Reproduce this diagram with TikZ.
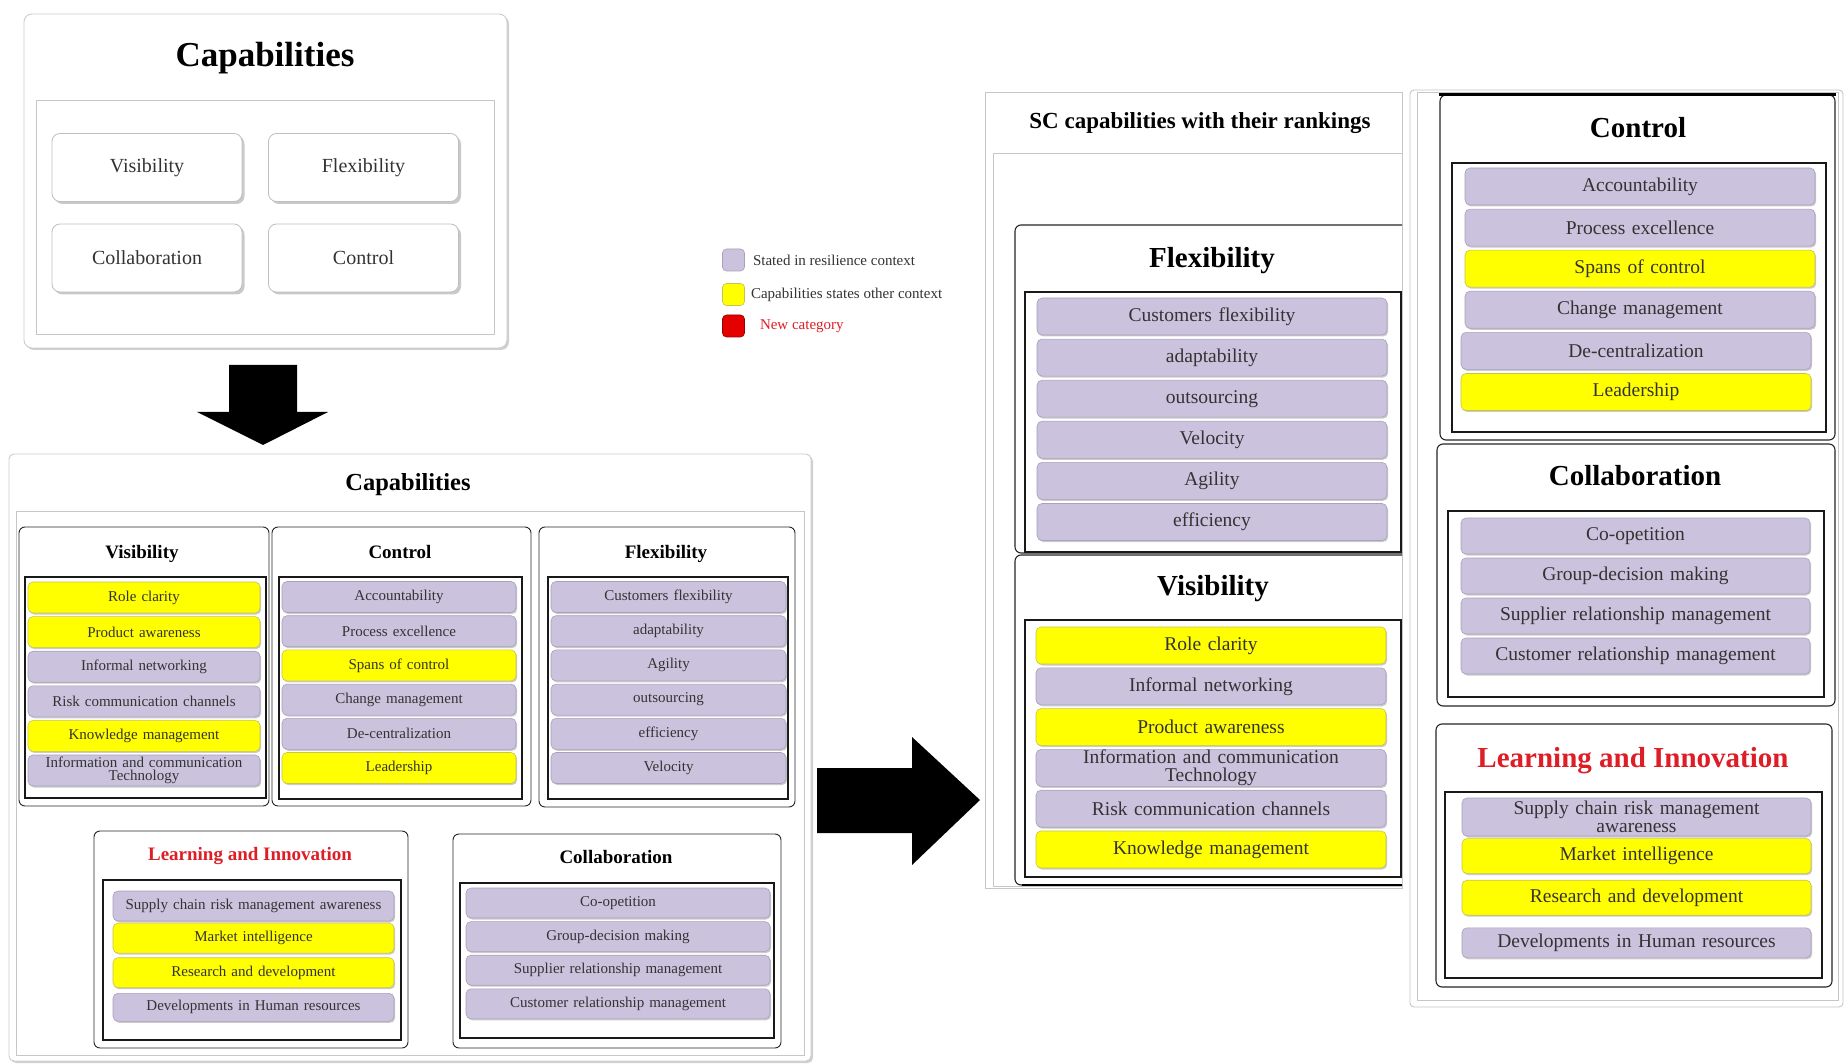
\documentclass[tikz,border=0pt]{standalone}
\usepackage{fontspec}
\setmainfont{Liberation Serif}
\usepackage{xcolor}
\usepackage{tikz}
\usetikzlibrary{positioning,shadows}
\definecolor{lav}{RGB}{203,195,221}
\definecolor{lavedge}{RGB}{168,160,188}
\definecolor{yel}{RGB}{255,255,0}
\definecolor{yeledge}{RGB}{200,195,80}
\definecolor{newred}{RGB}{222,30,38}
\tikzset{
  thinframe/.style={draw=gray!45, line width=0.9pt},
  panel/.style={draw=gray!40, line width=0.9pt, rounded corners=8pt, fill=white,
    drop shadow={shadow xshift=2pt, shadow yshift=-2pt, fill=black!30, opacity=0.6}},
  btn/.style={draw=gray!50, line width=0.8pt, rounded corners=8pt, fill=white, text=black!80,
    minimum width=190pt, minimum height=68pt, font=\fontsize{20}{20}\selectfont,
    drop shadow={shadow xshift=2.5pt, shadow yshift=-2.5pt, fill=black!35, opacity=0.6}},
  catbox/.style={draw=black!85, line width=0.9pt, rounded corners=6pt},
  catlist/.style={draw=black!90, line width=1.3pt},
  pill/.style={rounded corners=5pt, line width=0.6pt, align=center, inner sep=0pt, text=black!80,
    drop shadow={shadow xshift=1.2pt, shadow yshift=-1.5pt, fill=black!40, opacity=0.5}},
  resil/.style={fill=lav, draw=lavedge},
  other/.style={fill=yel, draw=yeledge},
  mitem/.style={pill, font=\fontsize{15}{13.5}\selectfont, minimum height=31pt, text width=#1},
  ritem/.style={pill, font=\fontsize{19.5}{17.5}\selectfont, minimum height=37pt, text width=#1},
  mhead/.style={anchor=base, font=\fontsize{19}{19}\selectfont\bfseries},
  rhead/.style={anchor=base, font=\fontsize{29}{29}\selectfont\bfseries},
  key/.style={draw, rounded corners=4pt, minimum size=22pt, line width=0.6pt},
  keytxt/.style={font=\fontsize{15}{15}\selectfont, text=black!80, inner sep=0pt},
}

\begin{document}
\begin{tikzpicture}[x=1pt, y=-1pt]
\useasboundingbox (0,0) rectangle (1845,1064);
\fill[white] (0,0) rectangle (1845,1064);

% the four capabilities
\node[panel, minimum width=483pt, minimum height=334pt] (cap) at (265.5,181) {};
\node[anchor=base, font=\fontsize{35}{35}\selectfont\bfseries] (captitle) at (265,67) {Capabilities};
\node[thinframe, minimum width=458pt, minimum height=234pt] (capin) at (265,217) {};
\node[btn] (bvis) at (147,167.5) {Visibility};
\node[btn] (bflex) at (363.5,167.5) {Flexibility};
\node[btn] (bcoll) at (147,258) {Collaboration};
\node[btn] (bcon) at (363.5,258) {Control};

\fill (229,365) -- (297,365) -- (297,412) -- (328,412) -- (263,445) -- (197,412) -- (229,412) -- cycle;

% legend
\node[key, resil] (k1) at (733.5,260) {};
\node[keytxt, right=8pt of k1] (k1t) {Stated in resilience context};
\node[key, other] (k2) at (733.5,294.5) {};
\node[keytxt, right=6pt of k2] (k2t) {Capabilities states other context};
\node[key, fill=red!90!black, draw=red!60!black] (k3) at (733.5,326) {};
\node[keytxt, right=15pt of k3, text=newred] (k3t) {New category};

% extended capabilities
\node[panel, rounded corners=5pt, minimum width=802pt, minimum height=607pt] (mid) at (410,757.5) {};
\node[anchor=base, font=\fontsize{24.5}{24.5}\selectfont\bfseries] (midtitle) at (408,490) {Capabilities};
\node[thinframe, minimum width=788pt, minimum height=544pt] (midin) at (410,783) {};

\node[catbox, minimum width=250pt, minimum height=279pt] (mvis) at (144,666.5) {};
\node[mhead] (mvhead) at (142,558) {Visibility};
\node[catlist, minimum width=241pt, minimum height=221pt] (mvlist) at (145.5,687.5) {};
\node[mitem=232pt, other] (mv1) at (144,597.5) {Role clarity};
\node[mitem=232pt, other, below=3pt of mv1] (mv2) {Product awareness};
\node[mitem=232pt, resil, below=3pt of mv2] (mv3) {Informal networking};
\node[mitem=232pt, resil, below=3pt of mv3] (mv4) {Risk communication channels};
\node[mitem=232pt, other, below=3pt of mv4] (mv5) {Knowledge management};
\node[mitem=232pt, resil, below=3pt of mv5] (mv6) {Information and communication\\Technology};

\node[catbox, minimum width=259pt, minimum height=279pt] (mcon) at (401.5,666.5) {};
\node[mhead] (mchead) at (400,558) {Control};
\node[catlist, minimum width=243pt, minimum height=222pt] (mclist) at (400.5,688) {};
\node[mitem=234pt, resil] (mc1) at (399,597) {Accountability};
\node[mitem=234pt, resil, below=2.6pt of mc1] (mc2) {Process excellence};
\node[mitem=234pt, other, below=2.6pt of mc2] (mc3) {Spans of control};
\node[mitem=234pt, resil, below=2.6pt of mc3] (mc4) {Change management};
\node[mitem=234pt, resil, below=2.6pt of mc4] (mc5) {De-centralization};
\node[mitem=234pt, other, below=2.6pt of mc5] (mc6) {Leadership};

\node[catbox, minimum width=256pt, minimum height=280pt] (mflex) at (667,667) {};
\node[mhead] (mfhead) at (666,558) {Flexibility};
\node[catlist, minimum width=240pt, minimum height=222pt] (mflist) at (668,688) {};
\node[mitem=235pt, resil] (mf1) at (668.5,597) {Customers flexibility};
\node[mitem=235pt, resil, below=2.6pt of mf1] (mf2) {adaptability};
\node[mitem=235pt, resil, below=2.6pt of mf2] (mf3) {Agility};
\node[mitem=235pt, resil, below=2.6pt of mf3] (mf4) {outsourcing};
\node[mitem=235pt, resil, below=2.6pt of mf4] (mf5) {efficiency};
\node[mitem=235pt, resil, below=2.6pt of mf5] (mf6) {Velocity};

\node[catbox, minimum width=314pt, minimum height=217pt] (mlearn) at (251,939.5) {};
\node[mhead, text=newred] (mlhead) at (250,860) {Learning and Innovation};
\node[catlist, minimum width=298pt, minimum height=160pt] (mllist) at (252,960) {};
\node[mitem=281pt, resil, minimum height=30pt] (ml1) at (253.5,906) {Supply chain risk management awareness};
\node[mitem=281pt, other, minimum height=30pt, below=1.5pt of ml1] (ml2) {Market intelligence};
\node[mitem=281pt, other, minimum height=30pt, below=4pt of ml2] (ml3) {Research and development};
\node[mitem=281pt, resil, minimum height=28pt, below=5pt of ml3] (ml4) {Developments in Human resources};

\node[catbox, minimum width=328pt, minimum height=214pt] (mcoll) at (617,941) {};
\node[mhead] (mohead) at (616,863) {Collaboration};
\node[catlist, minimum width=314pt, minimum height=155pt] (molist) at (617,960.5) {};
\node[mitem=304pt, resil, minimum height=30pt] (mo1) at (618,903) {Co-opetition};
\node[mitem=304pt, resil, minimum height=30pt, below=3pt of mo1] (mo2) {Group-decision making};
\node[mitem=304pt, resil, minimum height=30pt, below=3pt of mo2] (mo3) {Supplier relationship management};
\node[mitem=304pt, resil, minimum height=30pt, below=3pt of mo3] (mo4) {Customer relationship management};

\fill (817,768) -- (912,768) -- (912,737) -- (980,800) -- (912,865) -- (912,833) -- (817,833) -- cycle;

% rankings, first column
\draw[thinframe] (985,92) rectangle (1402,888);
\draw[thinframe] (993,153) rectangle (1402,886);
\node[anchor=base, font=\fontsize{23}{23}\selectfont\bfseries] (ranktitle) at (1200,129) {SC capabilities with their rankings};

\draw[catbox, line width=1.1pt] (1402,225) -- (1015,225) -- (1015,553) -- (1402,553);
\node[rhead] (rfhead) at (1212,268) {Flexibility};
\node[catlist, minimum width=376pt, minimum height=260pt] (rflist) at (1213,422) {};
\node[ritem=350pt, resil] (rf1) at (1212,316.5) {Customers flexibility};
\node[ritem=350pt, resil, below=3.5pt of rf1] (rf2) {adaptability};
\node[ritem=350pt, resil, below=3.5pt of rf2] (rf3) {outsourcing};
\node[ritem=350pt, resil, below=3.5pt of rf3] (rf4) {Velocity};
\node[ritem=350pt, resil, below=3.5pt of rf4] (rf5) {Agility};
\node[ritem=350pt, resil, below=3.5pt of rf5] (rf6) {efficiency};

\draw[catbox, line width=1.1pt] (1402,555) -- (1015,555) -- (1015,885) -- (1402,885);
\draw[line width=2.2pt] (1022,885) -- (1402,885);
\node[rhead] (rvhead) at (1213,595) {Visibility};
\node[catlist, minimum width=376pt, minimum height=257pt] (rvlist) at (1213,748.5) {};
\node[ritem=350pt, other] (rv1) at (1211,645.5) {Role clarity};
\node[ritem=350pt, resil, below=3.2pt of rv1] (rv2) {Informal networking};
\node[ritem=350pt, other, below=3.2pt of rv2] (rv3) {Product awareness};
\node[ritem=350pt, resil, below=3.2pt of rv3] (rv4) {Information and communication\\Technology};
\node[ritem=350pt, resil, below=3.2pt of rv4] (rv5) {Risk communication channels};
\node[ritem=350pt, other, below=3.2pt of rv5] (rv6) {Knowledge management};

% rankings, second column
\draw[thinframe, rounded corners=4pt] (1410,90) rectangle (1843,1007);
\draw[thinframe] (1417,92) rectangle (1838,1000);

\node[catbox, line width=1.1pt, minimum width=395pt, minimum height=345pt] (rcon) at (1637.5,267.5) {};
\draw[line width=2.2pt] (rcon.north west) -- (rcon.north east);
\node[rhead] (rchead) at (1638,138) {Control};
\node[catlist, minimum width=374pt, minimum height=269pt] (rclist) at (1639,297.5) {};
\node[ritem=350pt, resil] (rc1) at (1640,186.5) {Accountability};
\node[ritem=350pt, resil, below=3.5pt of rc1] (rc2) {Process excellence};
\node[ritem=350pt, other, below=3.5pt of rc2] (rc3) {Spans of control};
\node[ritem=350pt, resil, below=3.5pt of rc3] (rc4) {Change management};
\node[ritem=350pt, resil, below=3.5pt of rc4, xshift=-4pt] (rc5) {De-centralization};
\node[ritem=350pt, other, below=3.5pt of rc5] (rc6) {Leadership};

\node[catbox, line width=1.1pt, minimum width=398pt, minimum height=262pt] (rcoll) at (1636,575) {};
\node[rhead] (rohead) at (1635,485) {Collaboration};
\node[catlist, minimum width=376pt, minimum height=186pt] (rolist) at (1636,604) {};
\node[ritem=349pt, resil, minimum height=36pt] (ro1) at (1635.5,536) {Co-opetition};
\node[ritem=349pt, resil, minimum height=36pt, below=3.4pt of ro1] (ro2) {Group-decision making};
\node[ritem=349pt, resil, minimum height=36pt, below=3.4pt of ro2] (ro3) {Supplier relationship management};
\node[ritem=349pt, resil, minimum height=36pt, below=3.4pt of ro3] (ro4) {Customer relationship management};

\node[catbox, line width=1.1pt, minimum width=396pt, minimum height=263pt] (rlearn) at (1634,855.5) {};
\node[rhead, text=newred] (rlhead) at (1633,767) {Learning and Innovation};
\node[catlist, minimum width=377pt, minimum height=186pt] (rllist) at (1633.5,885) {};
\node[ritem=349pt, resil, minimum height=38pt] (rl1) at (1636.5,817) {Supply chain risk management\\awareness};
\node[ritem=349pt, other, minimum height=35pt, below=2pt of rl1] (rl2) {Market intelligence};
\node[ritem=349pt, other, minimum height=35pt, below=6pt of rl2] (rl3) {Research and development};
\node[ritem=349pt, resil, minimum height=30pt, below=12pt of rl3] (rl4) {Developments in Human resources};
\end{tikzpicture}
\end{document}
